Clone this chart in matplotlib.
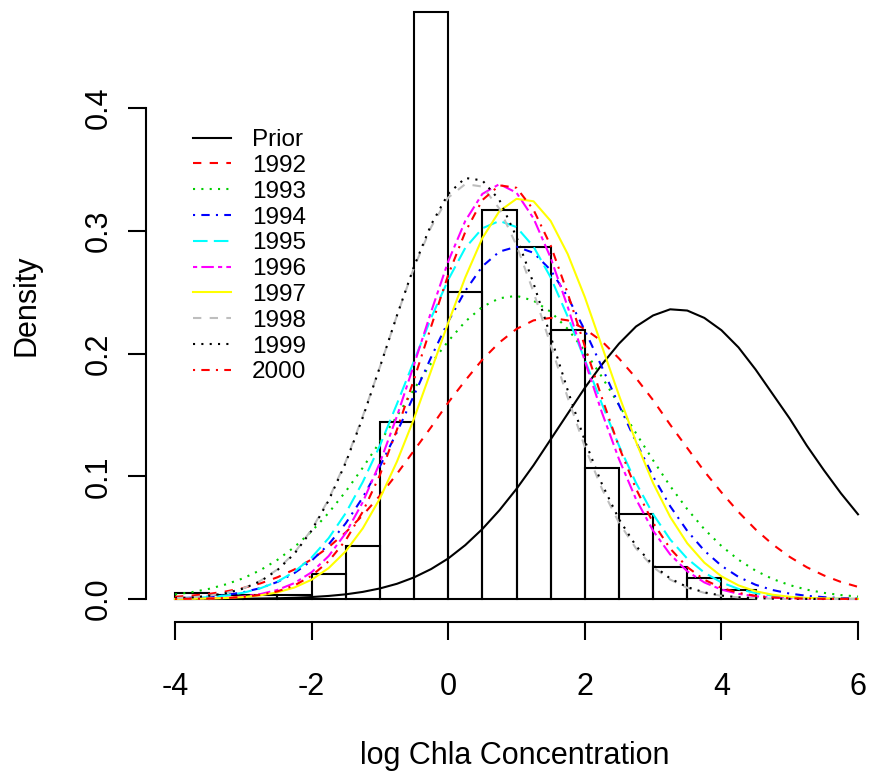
import numpy as np
import matplotlib
matplotlib.use("Agg")
import matplotlib.pyplot as plt

plt.rcParams['font.family'] = ['Liberation Sans', 'DejaVu Sans']

# histogram of observed log chla (density scale, bin width 0.5)
bin_edges = np.arange(-4, 4.51, 0.5)
bin_heights = [0.005, 0.003, 0.003, 0.003, 0.020, 0.043, 0.144, 0.478, 0.250,
               0.317, 0.287, 0.219, 0.107, 0.069, 0.026, 0.017, 0.007]

# density curves on a 0.25 grid from -4 to 6
x_grid = np.linspace(-4, 6, 41)
prior = [0.0000, 0.0000, 0.0001, 0.0001, 0.0002, 0.0004, 0.0006, 0.0010, 0.0016, 0.0025,
         0.0038, 0.0058, 0.0086, 0.0124, 0.0176, 0.0244, 0.0330, 0.0439, 0.0570, 0.0723,
         0.0897, 0.109, 0.130, 0.151, 0.172, 0.191, 0.208, 0.222, 0.231, 0.236,
         0.235, 0.229, 0.219, 0.205, 0.187, 0.167, 0.147, 0.125, 0.105, 0.0861, 0.0690]
y1992 = [0.0018, 0.0028, 0.0042, 0.0062, 0.0090, 0.0127, 0.0177, 0.0241, 0.0323, 0.0423,
         0.0543, 0.0683, 0.0842, 0.102, 0.121, 0.140, 0.160, 0.178, 0.195, 0.209,
         0.220, 0.227, 0.229, 0.227, 0.220, 0.210, 0.196, 0.180, 0.162, 0.142,
         0.123, 0.104, 0.0869, 0.0709, 0.0567, 0.0445, 0.0343, 0.0259, 0.0192, 0.0139, 0.0099]
y1993 = [0.0037, 0.0056, 0.0083, 0.0120, 0.0169, 0.0235, 0.0319, 0.0424, 0.0551, 0.0702,
         0.0876, 0.107, 0.128, 0.149, 0.171, 0.192, 0.210, 0.226, 0.238, 0.245,
         0.247, 0.243, 0.234, 0.220, 0.202, 0.181, 0.158, 0.135, 0.113, 0.0920,
         0.0732, 0.0569, 0.0432, 0.0320, 0.0231, 0.0163, 0.0113, 0.0076, 0.0050, 0.0032, 0.0020]
y1994 = [0.0006, 0.0011, 0.0019, 0.0033, 0.0055, 0.0089, 0.0139, 0.0212, 0.0312, 0.0445,
         0.0617, 0.0828, 0.108, 0.136, 0.166, 0.197, 0.226, 0.251, 0.271, 0.283,
         0.287, 0.282, 0.268, 0.246, 0.219, 0.189, 0.158, 0.128, 0.0999, 0.0756,
         0.0555, 0.0394, 0.0271, 0.0180, 0.0116, 0.0073, 0.0044, 0.0026, 0.0015, 0.0008, 0.0004]
y1995 = [0.0004, 0.0008, 0.0016, 0.0029, 0.0051, 0.0087, 0.0141, 0.0223, 0.0338, 0.0496,
         0.0700, 0.0954, 0.125, 0.159, 0.194, 0.229, 0.260, 0.286, 0.302, 0.308,
         0.303, 0.287, 0.262, 0.230, 0.195, 0.159, 0.125, 0.0946, 0.0691, 0.0485,
         0.0329, 0.0215, 0.0135, 0.0082, 0.0048, 0.0027, 0.0014, 0.0008, 0.0004, 0.0002, 0.0001]
y1996 = [0.0001, 0.0002, 0.0005, 0.0010, 0.0021, 0.0040, 0.0074, 0.0130, 0.0218, 0.0350,
         0.0537, 0.0790, 0.111, 0.149, 0.191, 0.234, 0.275, 0.308, 0.330, 0.338,
         0.331, 0.310, 0.278, 0.238, 0.194, 0.152, 0.114, 0.0813, 0.0556, 0.0363,
         0.0226, 0.0135, 0.0077, 0.0042, 0.0022, 0.0011, 0.0005, 0.0002, 0.0001, 0.0000, 0.0000]
y1997 = [0.0001, 0.0002, 0.0004, 0.0008, 0.0016, 0.0030, 0.0054, 0.0094, 0.0157, 0.0252,
         0.0389, 0.0576, 0.0819, 0.112, 0.147, 0.186, 0.225, 0.262, 0.294, 0.316,
         0.326, 0.324, 0.308, 0.281, 0.246, 0.206, 0.166, 0.128, 0.0944, 0.0669,
         0.0454, 0.0296, 0.0185, 0.0111, 0.0063, 0.0035, 0.0018, 0.0009, 0.0005, 0.0002, 0.0001]
y1998 = [0.0007, 0.0014, 0.0027, 0.0049, 0.0087, 0.0148, 0.0241, 0.0377, 0.0565, 0.0813,
         0.112, 0.149, 0.189, 0.231, 0.270, 0.303, 0.327, 0.338, 0.336, 0.318,
         0.288, 0.250, 0.207, 0.164, 0.124, 0.0899, 0.0622, 0.0412, 0.0260, 0.0158,
         0.0091, 0.0050, 0.0026, 0.0013, 0.0006, 0.0003, 0.0001, 0.0001, 0.0000, 0.0000, 0.0000]
y1999 = [0.0007, 0.0013, 0.0026, 0.0048, 0.0085, 0.0144, 0.0236, 0.0370, 0.0557, 0.0803,
         0.111, 0.148, 0.189, 0.231, 0.271, 0.305, 0.330, 0.343, 0.341, 0.325,
         0.295, 0.257, 0.214, 0.170, 0.129, 0.0938, 0.0651, 0.0432, 0.0275, 0.0167,
         0.0097, 0.0054, 0.0028, 0.0014, 0.0007, 0.0003, 0.0001, 0.0001, 0.0000, 0.0000, 0.0000]
y2000 = [0.0001, 0.0002, 0.0004, 0.0008, 0.0017, 0.0034, 0.0062, 0.0111, 0.0189, 0.0308,
         0.0479, 0.0712, 0.101, 0.138, 0.179, 0.222, 0.264, 0.299, 0.325, 0.337,
         0.335, 0.317, 0.288, 0.249, 0.206, 0.164, 0.124, 0.0897, 0.0621, 0.0411,
         0.0260, 0.0157, 0.0091, 0.0050, 0.0026, 0.0013, 0.0006, 0.0003, 0.0001, 0.0001, 0.0000]

labels = ["Prior", "1992", "1993", "1994", "1995", "1996", "1997", "1998", "1999", "2000"]
curves = [prior, y1992, y1993, y1994, y1995, y1996, y1997, y1998, y1999, y2000]

# R base palette + lty 1..6
colors = ["black", "#FF0000", "#00CD00", "#0000FF", "#00FFFF", "#FF00FF",
          "#FFFF00", "#BEBEBE", "black", "#FF0000"]
solid = "-"
dashed = (0, (4, 4))
dotted = (0, (1, 3))
dotdash = (0, (1, 3, 4, 3))
longdash = (0, (7, 3))
twodash = (0, (2, 2, 6, 2))
styles = [solid, dashed, dotted, dotdash, longdash, twodash, solid, dashed, dotted, dotdash]

W, H = 872, 778
fig = plt.figure(figsize=(W / 100, H / 100), dpi=100)

# pixel mapping: x=-4 -> 175px, x=6 -> 858px ; y=0 -> 599px, y=0.4 -> 108px (from top)
xlim = (-4.05, 6.05)
ylim = (-0.01, 0.485)
px_per_x = (858 - 175) / 10
px_per_y = (599 - 108) / 0.4
left_px = 175 + (xlim[0] + 4) * px_per_x
right_px = 175 + (xlim[1] + 4) * px_per_x
bottom_px = 599 - ylim[0] * px_per_y
top_px = 599 - ylim[1] * px_per_y
ax_w = right_px - left_px
ax_h = bottom_px - top_px
ax = fig.add_axes([left_px / W, 1 - bottom_px / H, ax_w / W, ax_h / H])
ax.set_xlim(*xlim)
ax.set_ylim(*ylim)

ax.bar(bin_edges[:-1], bin_heights, width=0.5, align="edge",
       fill=False, edgecolor="black", linewidth=1.5, zorder=1)

lines = []
for lab, yv, c, ls in zip(labels, curves, colors, styles):
    ln, = ax.plot(x_grid, yv, color=c, linestyle=ls, linewidth=1.5, label=lab, zorder=2)
    lines.append(ln)

# R-style detached axes
for s in ["top", "right"]:
    ax.spines[s].set_visible(False)
ax.spines["bottom"].set_position(("outward", (622 - bottom_px) * 0.72))
ax.spines["left"].set_position(("outward", (left_px - 145.7) * 0.72))
ax.spines["bottom"].set_bounds(-4, 6)
ax.spines["left"].set_bounds(0, 0.4)
for s in ["bottom", "left"]:
    ax.spines[s].set_linewidth(1.5)

ax.set_xticks([-4, -2, 0, 2, 4, 6])
ax.set_xticklabels(["-4", "-2", "0", "2", "4", "6"])
ax.set_yticks([0.0, 0.1, 0.2, 0.3, 0.4])
ax.set_yticklabels(["0.0", "0.1", "0.2", "0.3", "0.4"], rotation=90, va="center")
ax.tick_params(axis="both", direction="out", length=13, width=1.5, labelsize=22)
ax.tick_params(axis="x", pad=23)
ax.tick_params(axis="y", pad=10)

ax.set_xlabel("log Chla Concentration", fontsize=22)
ax.set_ylabel("Density", fontsize=22)
ax.xaxis.set_label_coords((515 - left_px) / ax_w, -(741 - bottom_px) / ax_h)
ax.yaxis.set_label_coords(-(left_px - 42) / ax_w, (bottom_px - 305) / ax_h)

leg = ax.legend(handles=lines, loc="upper left", frameon=False, fontsize=17.5,
                bbox_to_anchor=((193 - left_px) / ax_w, (bottom_px - 129) / ax_h),
                borderpad=0, borderaxespad=0, handlelength=1.57,
                handletextpad=0.86, labelspacing=0.157)

fig.savefig("out.png", dpi=100)
